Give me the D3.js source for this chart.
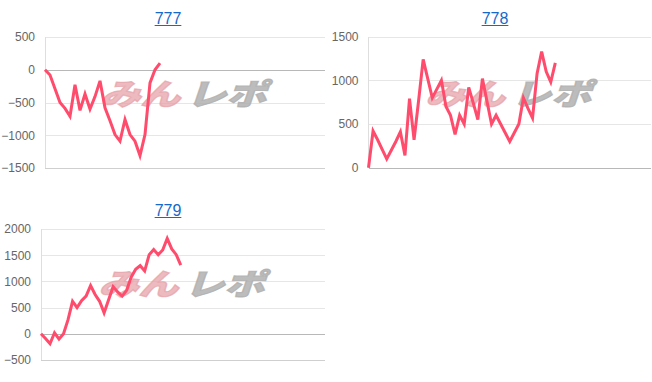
<!DOCTYPE html>
<html>
<head>
<meta charset="utf-8">
<script src="https://cdn.jsdelivr.net/npm/d3@7"></script>
<style>
  body { margin: 0; background: #fff; }
  svg { display: block; font-family: "Liberation Sans", Arial, sans-serif; }
</style>
</head>
<body>
<div id="chart"></div>
<script>
// series values, one per machine
var titles = ['777', '778', '779'];
var values777 = [0, -80, -290, -500, -590, -710, -230, -620, -370, -600, -410, -170,
  -580, -780, -990, -1090, -760, -990, -1090, -1310, -990, -200, 0, 100];
var values778 = [0, 420, 320, 210, 100, 200, 300, 410, 140, 790, 320, 770, 1240, 1020,
  800, 900, 1000, 700, 600, 380, 600, 500, 920, 740, 550, 1020, 760, 500, 600, 500,
  400, 300, 400, 500, 800, 680, 570, 1080, 1330, 1100, 980, 1200];
var values779 = [0, -90, -190, 20, -100, 0, 270, 620, 500, 630, 720, 920, 750, 620, 400,
  650, 900, 800, 720, 830, 1080, 1230, 1300, 1200, 1510, 1610, 1510, 1600, 1820, 1620,
  1510, 1310];
// number of x labels on each chart (not drawn)
var labelCount = [57, 63, 64];
// y tick labels
var ticks777 = [500, 0, -500, -1000, -1500];
var ticks778 = [1500, 1000, 500, 0];
var ticks779 = [2000, 1500, 1000, 500, 0, -500];

var W = 652, H = 382;
var svg = d3.select('#chart').append('svg')
  .attr('width', W)
  .attr('height', H);

var panels = [
  {values: values777, ticks: ticks777, x0: 45, x1: 325, y0: 37, y1: 168, tx: 168, ty: 24, wy: 94},
  {values: values778, ticks: ticks778, x0: 368.5, x1: 651, y0: 36.7, y1: 167.7, tx: 495, ty: 24, wy: 94},
  {values: values779, ticks: ticks779, x0: 41, x1: 325, y0: 229, y1: 360, tx: 168, ty: 216, wy: 284}
];

panels.forEach(function(p, k) {
  var g = svg.append('g');
  var labels = d3.range(labelCount[k]).map(String);
  var x = d3.scalePoint().domain(labels).range([p.x0, p.x1]);
  var y = d3.scaleLinear().domain(d3.extent(p.ticks)).range([p.y1, p.y0]);

  //title, underlined like a link
  var t = g.append('text')
    .attr('x', p.tx).attr('y', p.ty)
    .attr('text-anchor', 'middle')
    .attr('font-size', 16)
    .attr('fill', '#1769c9')
    .text(titles[k]);
  var tw = t.node().getComputedTextLength();
  g.append('line')
    .attr('x1', p.tx - tw / 2).attr('x2', p.tx + tw / 2)
    .attr('y1', p.ty + 1.5).attr('y2', p.ty + 1.5)
    .attr('stroke', '#1769c9').attr('stroke-width', 1);

  //grid + y labels
  var axis = d3.axisLeft(y)
    .tickValues(p.ticks)
    .tickSize(-(p.x1 - p.x0))
    .tickPadding(10)
    .tickFormat(d3.format('d'));
  var ax = g.append('g')
    .attr('transform', 'translate(' + p.x0 + ',0)')
    .call(axis);
  ax.select('.domain').remove();
  ax.selectAll('text')
    .attr('font-size', 12)
    .attr('fill', '#666')
    .attr('font-family', '"Liberation Sans", Arial, sans-serif');
  ax.selectAll('line')
    .attr('stroke', function(d) {
      if (d === 0) return '#b8b8b8';
      if (d === d3.min(p.ticks)) return '#cfcfcf';
      return '#e6e6e6';
    })
    .attr('shape-rendering', 'crispEdges');

  //left axis line
  g.append('line')
    .attr('x1', p.x0).attr('x2', p.x0)
    .attr('y1', p.y0).attr('y2', p.y1)
    .attr('stroke', '#dedede')
    .attr('shape-rendering', 'crispEdges');

  //watermark
  var cx = (p.x0 + p.x1) / 2 + 1;
  var wm = g.append('g')
    .attr('transform', 'translate(' + cx + ',' + p.wy + ') scale(1.05,0.78) skewX(-14)')
    .attr('font-family', '"Noto Sans CJK JP", sans-serif')
    .attr('font-weight', 900)
    .attr('font-size', 38);
  wm.append('text')
    .attr('x', -2).attr('y', 14)
    .attr('text-anchor', 'end')
    .attr('fill', '#e6a3aa')
    .attr('fill-opacity', 0.75)
    .attr('stroke', '#e6a3aa')
    .attr('stroke-opacity', 0.75)
    .attr('stroke-width', 1.5)
    .text('みん');
  wm.append('text')
    .attr('x', 4).attr('y', 14)
    .attr('text-anchor', 'start')
    .attr('fill', '#b0b0b0')
    .attr('fill-opacity', 0.85)
    .attr('stroke', '#b0b0b0')
    .attr('stroke-opacity', 0.85)
    .attr('stroke-width', 1.5)
    .text('レポ');

  //line
  var line = d3.line()
    .x(function(d, i) { return x(labels[i]); })
    .y(function(d) { return y(d); });
  g.append('path')
    .datum(p.values)
    .attr('d', line)
    .attr('fill', 'none')
    .attr('stroke', '#ff4b6c')
    .attr('stroke-width', 3)
    .attr('stroke-linejoin', 'miter');
});
</script>
</body>
</html>
